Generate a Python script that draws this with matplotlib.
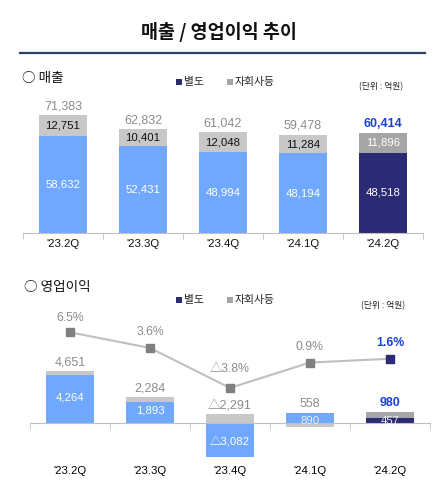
import matplotlib
matplotlib.use("Agg")
import matplotlib.pyplot as plt
from matplotlib.patches import Rectangle
from matplotlib.lines import Line2D

# ---------------- data ----------------
quarters = ["'23.2Q", "'23.3Q", "'23.4Q", "'24.1Q", "'24.2Q"]
sales_parent = [58632, 52431, 48994, 48194, 48518]
sales_sub = [12751, 10401, 12048, 11284, 11896]
sales_total = [71383, 62832, 61042, 59478, 60414]
sales_total_labels = ["71,383", "62,832", "61,042", "59,478", "60,414"]
sales_parent_labels = ["58,632", "52,431", "48,994", "48,194", "48,518"]
sales_sub_labels = ["12,751", "10,401", "12,048", "11,284", "11,896"]

op_parent = [4264, 1893, -3082, 890, 457]
op_sub = [387, 391, 791, -332, 523]
op_total = [4651, 2284, -2291, 558, 980]
op_total_labels = ["4,651", "2,284", "△2,291", "558", "980"]
op_parent_labels = ["4,264", "1,893", "△3,082", "890", "457"]
margin = [6.5, 3.6, -3.8, 0.9, 1.6]
margin_labels = ["6.5%", "3.6%", "△3.8%", "0.9%", "1.6%"]

# ---------------- style ----------------
W, H = 438, 487
BLUE = "#70A8FF"
NAVY = "#2B2A74"
LGRAY = "#C8C8C8"
DGRAY = "#A6A6A6"
TGRAY = "#8C8C8C"
HBLUE = "#1A3FE0"
AXC = "#BFBFBF"
NUM = ["Liberation Sans", "Noto Sans CJK KR"]
KR = ["Noto Sans CJK KR", "DejaVu Sans"]

fig = plt.figure(figsize=(W / 100, H / 100), dpi=100)
fig.patch.set_facecolor("white")


def fx(px):
    return px / W


def fy(py):
    return 1 - py / H


# title and rule
fig.text(fx(219), fy(32), "매출 / 영업이익 추이", ha="center", va="center",
         fontsize=13.3, fontweight="bold", family=KR, color="#111111")
fig.add_artist(Line2D([fx(20), fx(425)], [fy(53), fy(53)], color="#2E3F66", lw=1.6))


def legend(y):
    fig.add_artist(Rectangle((fx(176), fy(y + 3)), fx(6), 6 / H, color=NAVY, lw=0))
    fig.text(fx(184), fy(y), "별도", ha="left", va="center", fontsize=7.8, family=KR, color="#222222")
    fig.add_artist(Rectangle((fx(227), fy(y + 3)), fx(6), 6 / H, color=DGRAY, lw=0))
    fig.text(fx(235), fy(y), "자회사등", ha="left", va="center", fontsize=7.8, family=KR, color="#222222")


# ---------------- top chart: sales ----------------
fig.text(fx(22), fy(78), "○ 매출", ha="left", va="center", fontsize=9.8, family=KR, color="#111111")
legend(82)
fig.text(fx(381), fy(87), "(단위 : 억원)", ha="center", va="center", fontsize=6.3, family=KR, color="#222222")

top_px, base_px = 95, 233
ymax = (base_px - top_px) / 0.001653
ax1 = fig.add_axes([fx(23), fy(base_px), 400 / W, (base_px - top_px) / H])
x = list(range(len(quarters)))
pcol = [BLUE] * 4 + [NAVY]
scol = [LGRAY] * 4 + [DGRAY]
ax1.bar(x, sales_parent, width=0.6, color=pcol, lw=0)
ax1.bar(x, sales_sub, width=0.6, bottom=sales_parent, color=scol, lw=0)
ax1.set_xlim(-0.5, 4.5)
ax1.set_ylim(0, ymax)
for s in ["top", "left", "right"]:
    ax1.spines[s].set_visible(False)
ax1.spines["bottom"].set_color(AXC)
ax1.set_yticks([])
ax1.set_xticks(x)
ax1.set_xticklabels(quarters, fontsize=8.2, family=NUM, color="#111111")
ax1.tick_params(axis="x", which="major", length=0, pad=4)
ax1.set_xticks([i - 0.5 for i in range(6)], minor=True)
ax1.tick_params(axis="x", which="minor", length=4, color=AXC)
for i in x:
    last = i == 4
    ax1.annotate(sales_total_labels[i], (i, sales_total[i]), xytext=(0, 9),
                 textcoords="offset pixels", ha="center", va="center",
                 fontsize=9, family=NUM, color=HBLUE if last else TGRAY,
                 fontweight="bold" if last else "normal")
    ax1.text(i, sales_parent[i] + sales_sub[i] / 2, sales_sub_labels[i], ha="center", va="center",
             fontsize=8.2, family=NUM, color="white" if last else "#111111")
    ax1.text(i, sales_parent[i] / 2, sales_parent_labels[i], ha="center", va="center",
             fontsize=8.2, family=NUM, color="white")

# ---------------- bottom chart: operating profit ----------------
fig.text(fx(24), fy(287), "○ 영업이익", ha="left", va="center", fontsize=9.8, family=KR, color="#111111")
legend(300)
fig.text(fx(383), fy(306), "(단위 : 억원)", ha="center", va="center", fontsize=6.3, family=KR, color="#222222")

sc = 0.01118
b_base = 423
b_top, b_bot = 320, 460
ax2 = fig.add_axes([fx(30), fy(b_bot), 400 / W, (b_bot - b_top) / H])
ax2.set_xlim(-0.5, 4.5)
ax2.set_ylim(-(b_bot - b_base) / sc, (b_base - b_top) / sc)
sub_bottom = [p if (p >= 0) == (s >= 0) else 0 for p, s in zip(op_parent, op_sub)]
ax2.bar(x, op_parent, width=0.6, color=pcol, lw=0, zorder=2)
ax2.bar(x, op_sub, width=0.6, bottom=sub_bottom, color=scol, lw=0, zorder=2)
for s in ["top", "left", "right"]:
    ax2.spines[s].set_visible(False)
ax2.spines["bottom"].set_position(("data", 0))
ax2.spines["bottom"].set_color(AXC)
ax2.spines["bottom"].set_zorder(3)
ax2.set_yticks([])
ax2.set_xticks([])
ax2.set_xticks([i - 0.5 for i in range(6)], minor=True)
ax2.tick_params(axis="x", which="minor", length=4, color=AXC, labelbottom=False)
for i in x:
    ax2.text(i, -0.078, quarters[i], transform=ax2.get_xaxis_transform(), ha="center", va="center",
             fontsize=8.2, family=NUM, color="#000000")
    top_v = max(op_parent[i], sub_bottom[i] + op_sub[i], 0)
    last = i == 4
    ax2.annotate(op_total_labels[i], (i, top_v), xytext=(0, 9), textcoords="offset pixels",
                 ha="center", va="center", fontsize=9, family=NUM,
                 color=HBLUE if last else TGRAY, fontweight="bold" if last else "normal")
    if abs(op_parent[i]) > 1500:
        ax2.annotate(op_parent_labels[i], (i, op_parent[i] / 2), xytext=(0, 2 if op_parent[i] > 0 else -2),
                     textcoords="offset pixels", ha="center", va="center", fontsize=8.2,
                     family=NUM, color="white", zorder=4)
    else:
        ax2.annotate(op_parent_labels[i], (i, 0), xytext=(0, 2), textcoords="offset pixels",
                     ha="center", va="center", fontsize=8.2, family=NUM,
                     color="#EDEDED", zorder=4)

ax3 = ax2.twinx()
ax3.set_ylim(-(b_bot - 367.4) / 5.4, (367.4 - b_top) / 5.4)
ax3.axis("off")
ax3.plot(x, margin, color=AXC, lw=1.5, zorder=3)
ax3.scatter(x[:4], margin[:4], marker="s", s=38, color="#808080", zorder=4)
ax3.scatter(x[4:], margin[4:], marker="s", s=38, color=NAVY, zorder=4)
for i in x:
    last = i == 4
    off = 19 if margin[i] < 0 else (14.5 if i == 0 else 16)
    ax3.annotate(margin_labels[i], (i, margin[i]), xytext=(0, off), textcoords="offset pixels",
                 ha="center", va="center", fontsize=8.8, family=NUM,
                 color=HBLUE if last else TGRAY, fontweight="bold" if last else "normal")

fig.savefig("out.png", dpi=100)
